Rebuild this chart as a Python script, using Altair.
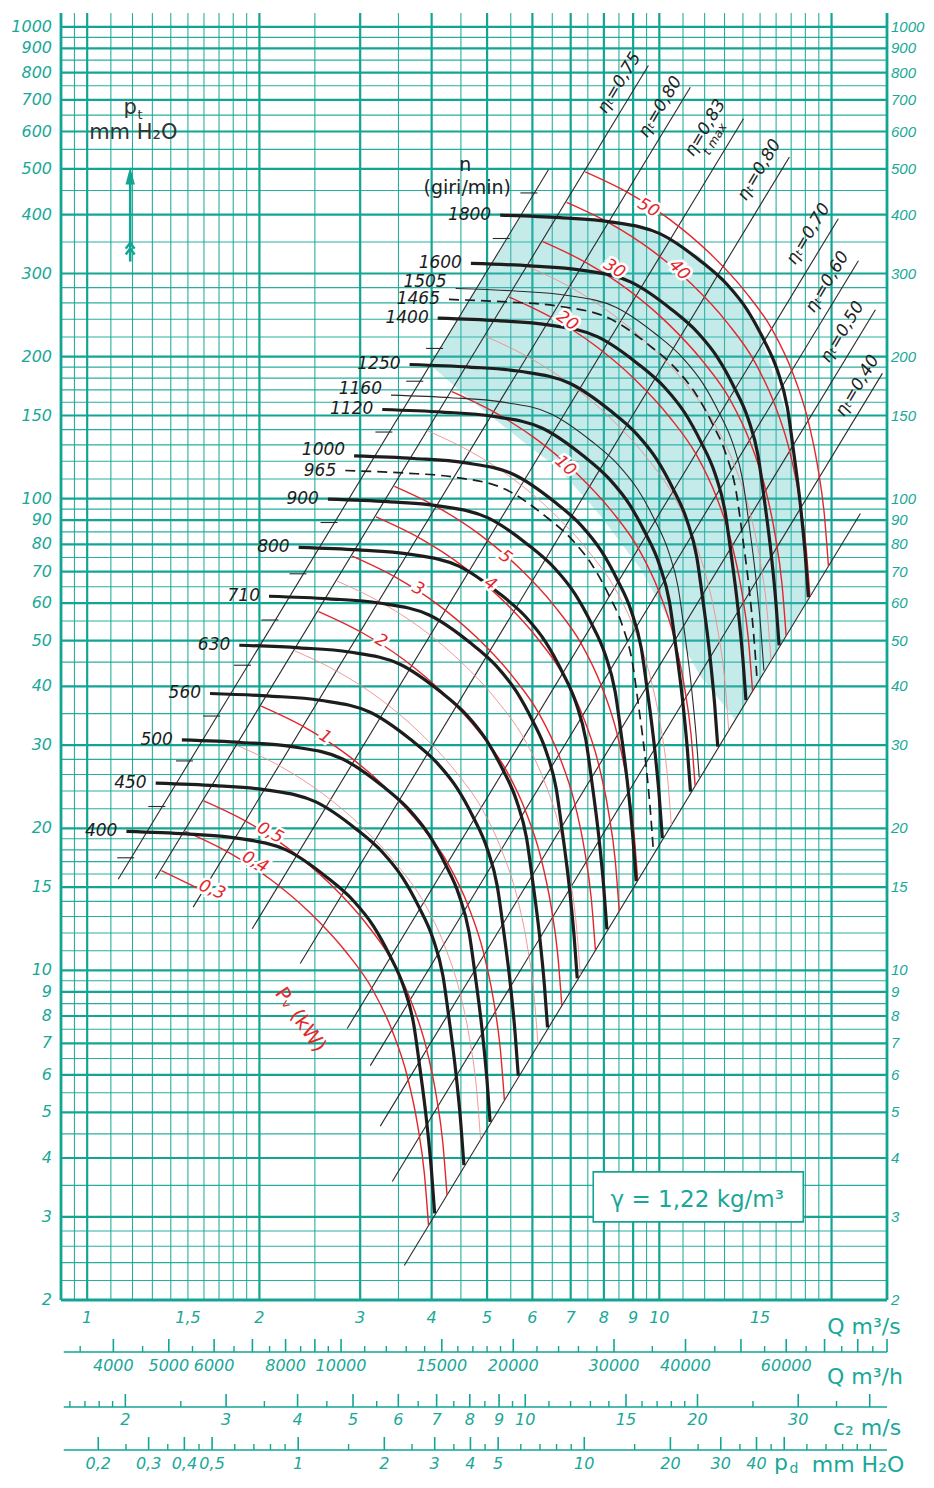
import altair as alt
import pandas as pd

# ===================== data =====================
# base characteristic at n = 1800 giri/min : Q [m3/s], pt [mm H2O]
base_n = 1800
base_Q = [5.27, 6.71, 8.21, 10.04, 11.80, 13.15, 14.25, 15.20, 16.08, 16.74, 17.15, 17.64, 17.99, 18.22]
base_p = [399, 394, 386, 364, 319, 284, 251, 218, 187, 156, 127, 97, 76, 61.8]

speeds_main = [400, 450, 500, 560, 630, 710, 800, 900, 1000, 1120, 1250, 1400, 1600, 1800]
speeds_dashed = [965, 1465]
speeds_thin = [1160, 1505]
speed_scale_ticks = [375, 425, 475, 530, 600, 670, 750, 850, 1060, 1200, 1300, 1700, 1900]
speeds_label_raised = [1000, 1160, 1505]

# system lines p = k * Q^2 (first: speed scale line, last: end line)
sys_k = [12.15, 9.04, 5.80, 3.244, 1.860, 0.928, 0.643, 0.4417, 0.306, 0.1843]
sys_Q_lo = [1.133, 1.315, 1.532, 1.943, 2.357, 2.848, 3.125, 3.253, 3.414, 3.583]
sys_Q_hi = [6.40, 9.57, 11.33, 14.03, 16.88, 20.55, 22.28, 23.86, 24.54, 22.46]

eta_text = ["ηₜ=0,75", "ηₜ=0,80", "η=0,83", "ηₜ=0,80", "ηₜ=0,70", "ηₜ=0,60", "ηₜ=0,50", "ηₜ=0,40"]
eta_Q = [8.51, 10.04, 12.03, 14.95, 18.22, 19.66, 20.89, 22.19]
eta_p = [760.8, 676.7, 610.7, 497.5, 364.0, 288.0, 225.6, 173.4]

# absorbed power curves Pv (kW): base curve read for Pv = 50 kW
red_base_P = 50
red_base_Q = [7.42, 8.83, 10.45, 12.28, 14.14, 15.76, 17.08, 18.15, 18.89, 19.43, 19.75]
red_base_p = [492.6, 444.7, 389.8, 330.2, 274.3, 227.9, 185.6, 148.3, 117.9, 92.3, 72.0]
red_P_main = [0.4, 0.5, 1, 2, 3, 4, 5, 10, 20, 30, 40, 50]
red_P_stub = [0.3]
red_P_light = [0.75, 1.5, 2.5, 7.5, 15, 25]
red_lab_text = ["0,3", "0,4", "0,5", "1", "2", "3", "4", "5", "10", "20", "30", "40", "50"]
red_lab_Q = [1.654, 1.967, 2.089, 2.607, 3.266, 3.790, 5.064, 5.381, 6.849, 6.904, 8.342, 10.84, 9.57]
red_lab_p = [14.81, 16.97, 19.56, 31.25, 49.93, 64.38, 65.96, 75.2, 117.3, 238.1, 306.9, 305.4, 413.3]
red_lab_angle = [22, 28, 28, 32, 30, 28, 35, 38, 42, 35, 32, 45, 30]

# shaded best-efficiency zone
shade_Q = [3.98, 4.67, 5.74, 6.71, 7.89, 9.27, 10.88, 11.80, 13.58, 15.02, 16.94, 18.22]
shade_hi = [192, 265, 400, 394, 388, 375, 345, 325, 272, 222, 143, 62]
shade_lo = [192, 162, 133, 115, 92, 71, 50, 42, 34, 41.6, 52.9, 61.2]

# grid
grid_Q_major = [1, 2, 3, 4, 5, 6, 7, 8, 9, 10, 20]
grid_Q_minor = [0.95, 1.1, 1.2, 1.3, 1.4, 1.5, 1.6, 1.7, 1.8, 1.9, 2.5, 3.5, 4.5, 5.5, 6.5, 7.5,
                8.5, 9.5, 11, 12, 13, 14, 15, 16, 17, 18, 19]
grid_p_major = [3, 4, 5, 6, 7, 8, 9, 10, 15, 20, 30, 40, 50, 60, 70, 80, 90, 100, 150, 200,
                300, 400, 500, 600, 700, 800, 900, 1000]
grid_p_minor = [2.2, 2.4, 2.6, 2.8, 3.5, 4.5, 5.5, 6.5, 7.5, 8.5, 9.5, 11, 12, 13, 14, 16, 17, 18, 19,
                22, 24, 26, 28, 35, 45, 55, 65, 75, 85, 95, 110, 120, 130, 140, 160, 170, 180, 190,
                220, 240, 260, 280, 350, 450, 550, 650, 750, 850, 950]
border_Q = [0.9, 25]
border_p = [2]

p_tick_labels = [1000, 900, 800, 700, 600, 500, 400, 300, 200, 150, 100, 90, 80, 70, 60, 50,
                 40, 30, 20, 15, 10, 9, 8, 7, 6, 5, 4, 3, 2]
Q_tick_labels = [1, 1.5, 2, 3, 4, 5, 6, 7, 8, 9, 10, 15]

# auxiliary scales
Qh_major = [4000, 5000, 6000, 7000, 8000, 9000, 10000, 15000, 20000, 30000, 40000, 50000,
            60000, 70000, 80000, 90000]
Qh_minor = [3500, 4500, 5500, 6500, 7500, 8500, 9500, 11000, 12000, 13000, 14000, 16000, 17000,
            18000, 19000, 22000, 24000, 26000, 28000, 35000, 45000, 55000, 65000, 75000, 85000]
Qh_labels = [4000, 5000, 6000, 8000, 10000, 15000, 20000, 30000, 40000, 60000]
c2_major = [2, 3, 4, 5, 6, 7, 8, 9, 10, 15, 20, 30, 40]
c2_minor = [1.6, 1.7, 1.8, 1.9, 2.5, 3.5, 4.5, 5.5, 6.5, 7.5, 8.5, 9.5, 11, 12, 13, 14, 16, 17,
            18, 19, 25, 35]
c2_labels = [2, 3, 4, 5, 6, 7, 8, 9, 10, 15, 20, 30]
pd_major = [0.2, 0.3, 0.4, 0.5, 1, 2, 3, 4, 5, 10, 20, 30, 40, 50]
pd_minor = [0.25, 0.35, 0.45, 0.6, 0.7, 0.8, 0.9, 1.5, 2.5, 3.5, 4.5, 6, 7, 8, 9, 15, 25, 35,
            45, 60, 70, 80, 90, 100]
pd_labels = [0.2, 0.3, 0.4, 0.5, 1, 2, 3, 4, 5, 10, 20, 30, 40]

outlet_area = 0.583   # m2
gamma = 1.22          # kg/m3
g = 9.81

# ===================== styling =====================
W, H = 826, 1287
TEAL = "#12a594"
TEAL_T = "#19a898"
BLACK = "#1d1d1d"
RED = "#e3262c"
RED_L = "#f08c8c"
FONT = "DejaVu Sans"

xs = alt.Scale(type="log", domain=[0.9, 25], nice=False)
ys = alt.Scale(type="log", domain=[2, 1070], nice=False)


def X(f):
    return alt.X(f"{f}:Q", scale=xs, axis=None)


def Y(f):
    return alt.Y(f"{f}:Q", scale=ys, axis=None)


def fmt(v):
    return f"{v:g}".replace(".", ",")


def fan_df(speeds):
    rows = []
    for n in speeds:
        r = n / base_n
        for i, (q, p) in enumerate(zip(base_Q, base_p)):
            rows.append({"n": n, "i": i, "Q": q * r, "p": p * r * r})
    return pd.DataFrame(rows)


def red_df(Ps, npts=None):
    rows = []
    for P in Ps:
        r = (P / red_base_P) ** (1.0 / 3.0)
        for i, (q, p) in enumerate(zip(red_base_Q, red_base_p)):
            if npts is not None and i >= npts:
                break
            rows.append({"P": P, "i": i, "Q": q * r, "p": p * r * r})
    return pd.DataFrame(rows)


def start_df(speeds):
    return pd.DataFrame({
        "Q": [base_Q[0] * n / base_n for n in speeds],
        "p": [base_p[0] * (n / base_n) ** 2 for n in speeds],
        "t": [str(n) for n in speeds],
    })


layers = []

# ---- grid
layers.append(alt.Chart(pd.DataFrame({"Q": grid_Q_minor})).mark_rule(
    color=TEAL, strokeWidth=1.1, opacity=0.9).encode(x=X("Q")))
layers.append(alt.Chart(pd.DataFrame({"p": grid_p_minor})).mark_rule(
    color=TEAL, strokeWidth=1.1, opacity=0.9).encode(y=Y("p")))
layers.append(alt.Chart(pd.DataFrame({"Q": grid_Q_major})).mark_rule(
    color=TEAL, strokeWidth=2.2).encode(x=X("Q")))
layers.append(alt.Chart(pd.DataFrame({"p": grid_p_major})).mark_rule(
    color=TEAL, strokeWidth=2.2).encode(y=Y("p")))
layers.append(alt.Chart(pd.DataFrame({"Q": border_Q})).mark_rule(
    color=TEAL, strokeWidth=2.8).encode(x=X("Q")))
layers.append(alt.Chart(pd.DataFrame({"p": border_p})).mark_rule(
    color=TEAL, strokeWidth=2.8).encode(y=Y("p")))

# ---- shaded zone
layers.append(alt.Chart(pd.DataFrame({"Q": shade_Q, "hi": shade_hi, "lo": shade_lo})).mark_area(
    color="#4fbfbf", opacity=0.33).encode(x=X("Q"), y=Y("hi"), y2=alt.Y2("lo")))

# ---- system (efficiency) lines
sdf = pd.DataFrame({"k": sys_k, "Qlo": sys_Q_lo, "Qhi": sys_Q_hi})
sdf["plo"] = sdf["k"] * sdf["Qlo"] ** 2
sdf["phi"] = sdf["k"] * sdf["Qhi"] ** 2
layers.append(alt.Chart(sdf).mark_rule(color="#2a2a2a", strokeWidth=1.1).encode(
    x=X("Qlo"), y=Y("plo"), x2=alt.X2("Qhi"), y2=alt.Y2("phi")))

# ---- speed scale ticks on the first system line
tk = pd.DataFrame({"n": speed_scale_ticks})
tk["p"] = base_p[0] * (tk["n"] / base_n) ** 2
tk["QA"] = (tk["p"] / sys_k[0]) ** 0.5
tk["Q0"] = tk["QA"] * 10 ** (-14 / 572)
tk["Q1"] = tk["QA"] * 10 ** (3 / 572)
layers.append(alt.Chart(tk).mark_rule(color="#2a2a2a", strokeWidth=1.1).encode(
    x=X("Q0"), x2=alt.X2("Q1"), y=Y("p")))

# ---- power curves
layers.append(alt.Chart(red_df(red_P_light)).mark_line(
    color=RED_L, strokeWidth=0.9, interpolate="monotone").encode(
    x=X("Q"), y=Y("p"), detail="P:N", order="i:Q"))
layers.append(alt.Chart(red_df(red_P_main)).mark_line(
    color=RED, strokeWidth=1.4, interpolate="monotone").encode(
    x=X("Q"), y=Y("p"), detail="P:N", order="i:Q"))
layers.append(alt.Chart(red_df(red_P_stub, npts=2)).mark_line(
    color=RED, strokeWidth=1.4).encode(x=X("Q"), y=Y("p"), detail="P:N", order="i:Q"))

# ---- fan curves
layers.append(alt.Chart(fan_df(speeds_thin)).mark_line(
    color="#2b2b2b", strokeWidth=1.1, interpolate="monotone").encode(
    x=X("Q"), y=Y("p"), detail="n:N", order="i:Q"))
layers.append(alt.Chart(fan_df(speeds_dashed)).mark_line(
    color=BLACK, strokeWidth=1.7, strokeDash=[10, 6], interpolate="monotone").encode(
    x=X("Q"), y=Y("p"), detail="n:N", order="i:Q"))
layers.append(alt.Chart(fan_df(speeds_main)).mark_line(
    color=BLACK, strokeWidth=3.2, interpolate="monotone").encode(
    x=X("Q"), y=Y("p"), detail="n:N", order="i:Q"))

# ---- power labels (with white halo to open a gap in the red line)
rl = pd.DataFrame({"t": red_lab_text, "Q": red_lab_Q, "p": red_lab_p, "a": red_lab_angle})
layers.append(alt.Chart(rl).mark_text(
    font=FONT, fontStyle="italic", fontSize=17, color="white", stroke="white", strokeWidth=5,
    baseline="middle").encode(x=X("Q"), y=Y("p"), text="t:N", angle=alt.Angle("a:Q", scale=None)))
layers.append(alt.Chart(rl).mark_text(
    font=FONT, fontStyle="italic", fontSize=17, color=RED, baseline="middle").encode(
    x=X("Q"), y=Y("p"), text="t:N", angle=alt.Angle("a:Q", scale=None)))

# Pv (kW) label
layers.append(alt.Chart(pd.DataFrame({"Q": [2.357], "p": [7.85], "t": ["Pᵥ (kW)"]})).mark_text(
    font=FONT, fontSize=20, color=RED, angle=55, baseline="middle").encode(
    x=X("Q"), y=Y("p"), text="t:N"))

# ---- speed labels
normal_speeds = [n for n in speeds_main + speeds_dashed + speeds_thin if n not in speeds_label_raised]
layers.append(alt.Chart(start_df(normal_speeds)).mark_text(
    font=FONT, fontStyle="italic", fontSize=17, color=BLACK, align="right", baseline="middle",
    dx=-9).encode(x=X("Q"), y=Y("p"), text="t:N"))
layers.append(alt.Chart(start_df(speeds_label_raised)).mark_text(
    font=FONT, fontStyle="italic", fontSize=17, color=BLACK, align="right", baseline="middle",
    dx=-9, dy=-6).encode(x=X("Q"), y=Y("p"), text="t:N"))

layers.append(alt.Chart(pd.DataFrame({"Q": [4.579, 4.617], "p": [509.8, 455.8],
                                      "t": ["n", "(giri/min)"]})).mark_text(
    font=FONT, fontSize=19, color="#222", baseline="middle").encode(
    x=X("Q"), y=Y("p"), text="t:N"))

# ---- efficiency labels
layers.append(alt.Chart(pd.DataFrame({"t": eta_text, "Q": eta_Q, "p": eta_p})).mark_text(
    font=FONT, fontStyle="italic", fontSize=17, color="#222", angle=301.2, baseline="middle").encode(
    x=X("Q"), y=Y("p"), text="t:N"))
layers.append(alt.Chart(pd.DataFrame({"t": ["t max"], "Q": [eta_Q[2]], "p": [eta_p[2]]})).mark_text(
    font=FONT, fontStyle="italic", fontSize=12, color="#222", angle=301.2, baseline="middle",
    align="left", dx=-22, dy=14).encode(x=X("Q"), y=Y("p"), text="t:N"))

# ---- pt label and arrow (top left)
layers.append(alt.Chart(pd.DataFrame({"Q": [1.189], "p": [673.5], "t": ["p"]})).mark_text(
    font=FONT, fontSize=21, color="#333", baseline="middle").encode(x=X("Q"), y=Y("p"), text="t:N"))
layers.append(alt.Chart(pd.DataFrame({"Q": [1.237], "p": [650.0], "t": ["t"]})).mark_text(
    font=FONT, fontSize=13, color="#333", baseline="middle").encode(x=X("Q"), y=Y("p"), text="t:N"))
layers.append(alt.Chart(pd.DataFrame({"Q": [1.204], "p": [596.3], "t": ["mm H₂O"]})).mark_text(
    font=FONT, fontSize=21, color="#333", baseline="middle").encode(x=X("Q"), y=Y("p"), text="t:N"))
layers.append(alt.Chart(pd.DataFrame({"Q": [1.189], "p0": [318], "p1": [470]})).mark_rule(
    color=TEAL, strokeWidth=2.6).encode(x=X("Q"), y=Y("p0"), y2=alt.Y2("p1")))
layers.append(alt.Chart(pd.DataFrame({"Q": [1.189], "p": [482]})).mark_point(
    shape="M0,-1.4L0.7,1.2L-0.7,1.2Z", filled=True, size=180, color=TEAL, opacity=1).encode(
    x=X("Q"), y=Y("p")))
layers.append(alt.Chart(pd.DataFrame({"Q": [1.189], "p": [340]})).mark_point(
    shape="M-0.6,0.1L0,-0.7L0.6,0.1M-0.6,0.9L0,0.1L0.6,0.9", filled=False, size=220,
    color=TEAL, strokeWidth=2.4, opacity=1).encode(x=X("Q"), y=Y("p")))

# ---- gamma box
layers.append(alt.Chart(pd.DataFrame({"Q0": [7.665], "Q1": [17.85], "p0": [2.928], "p1": [3.738]})).mark_rect(
    fill="white", stroke=TEAL, strokeWidth=1.6).encode(
    x=X("Q0"), x2=alt.X2("Q1"), y=Y("p0"), y2=alt.Y2("p1")))
layers.append(alt.Chart(pd.DataFrame({"Q": [11.65], "p": [3.261], "t": ["γ = 1,22 kg/m³"]})).mark_text(
    font=FONT, fontSize=23, color=TEAL_T, baseline="middle").encode(x=X("Q"), y=Y("p"), text="t:N"))

# ---- pressure labels, left and right
p_lab_df = pd.DataFrame({"p": p_tick_labels, "t": [fmt(v) for v in p_tick_labels]})
layers.append(alt.Chart(p_lab_df).mark_text(
    font=FONT, fontStyle="italic", fontSize=16, color=TEAL_T, align="right", baseline="middle",
    dx=-9).encode(x=alt.value(0), y=Y("p"), text="t:N"))
layers.append(alt.Chart(p_lab_df).mark_text(
    font="Liberation Sans", fontStyle="italic", fontSize=15, color=TEAL_T, align="left",
    baseline="middle", dx=4).encode(x=alt.value(W), y=Y("p"), text="t:N"))

# ---- Q m3/s labels under the plot
layers.append(alt.Chart(pd.DataFrame({"Q": Q_tick_labels, "t": [fmt(v) for v in Q_tick_labels]})).mark_text(
    font=FONT, fontStyle="italic", fontSize=16, color=TEAL_T, baseline="middle").encode(
    x=X("Q"), y=alt.value(H + 18), text="t:N"))


# ---- auxiliary scales below the plot
def aux_rows(values, conv):
    return pd.DataFrame({"v": values, "Q": [conv(v) for v in values], "t": [fmt(v) for v in values]})


conv_Qh = lambda v: v / 3600.0
conv_c2 = lambda v: outlet_area * v
conv_pd = lambda v: outlet_area * (2 * g * v / gamma) ** 0.5

aux_specs = [
    (Qh_major, Qh_minor, Qh_labels, conv_Qh, 1339, 1353),
    (c2_major, c2_minor, c2_labels, conv_c2, 1394, 1407),
    (pd_major, pd_minor, pd_labels, conv_pd, 1437, 1451),
]
for major, minor, labs, conv, base_y, lab_y in aux_specs:
    layers.append(alt.Chart(pd.DataFrame({"Q0": [0.91], "Q1": [25]})).mark_rule(
        color=TEAL, strokeWidth=1.6).encode(x=X("Q0"), x2=alt.X2("Q1"), y=alt.value(base_y)))
    layers.append(alt.Chart(aux_rows(major, conv)).mark_rule(color=TEAL, strokeWidth=1.6).encode(
        x=X("Q"), y=alt.value(base_y), y2=alt.value(base_y - 13)))
    layers.append(alt.Chart(aux_rows(minor, conv)).mark_rule(color=TEAL, strokeWidth=1.4).encode(
        x=X("Q"), y=alt.value(base_y), y2=alt.value(base_y - 6)))
    layers.append(alt.Chart(aux_rows(labs, conv)).mark_text(
        font=FONT, fontStyle="italic", fontSize=16, color=TEAL_T, baseline="middle").encode(
        x=X("Q"), y=alt.value(lab_y), text="t:N"))

titles = [("Q m³/s", 803, 1314), ("Q m³/h", 804, 1364), ("c₂ m/s", 806, 1415), ("mm H₂O", 797, 1452)]
for txt, tx, ty in titles:
    layers.append(alt.Chart(pd.DataFrame({"t": [txt]})).mark_text(
        font=FONT, fontSize=22, color=TEAL_T, baseline="middle").encode(
        x=alt.value(tx), y=alt.value(ty), text="t:N"))
layers.append(alt.Chart(pd.DataFrame({"t": ["p"]})).mark_text(
    font=FONT, fontSize=22, color=TEAL_T, baseline="middle").encode(
    x=alt.value(720), y=alt.value(1450), text="t:N"))
layers.append(alt.Chart(pd.DataFrame({"t": ["d"]})).mark_text(
    font=FONT, fontSize=14, color=TEAL_T, baseline="middle").encode(
    x=alt.value(733), y=alt.value(1456), text="t:N"))

chart = alt.layer(*layers).properties(
    width=W, height=H,
    padding={"left": 53, "top": 5, "right": 38, "bottom": 180},
    autosize=alt.AutoSizeParams(type="none"),
    background="white",
).configure_view(stroke=None)

chart.save("out.html", embed_options={"renderer": "svg", "actions": False})
